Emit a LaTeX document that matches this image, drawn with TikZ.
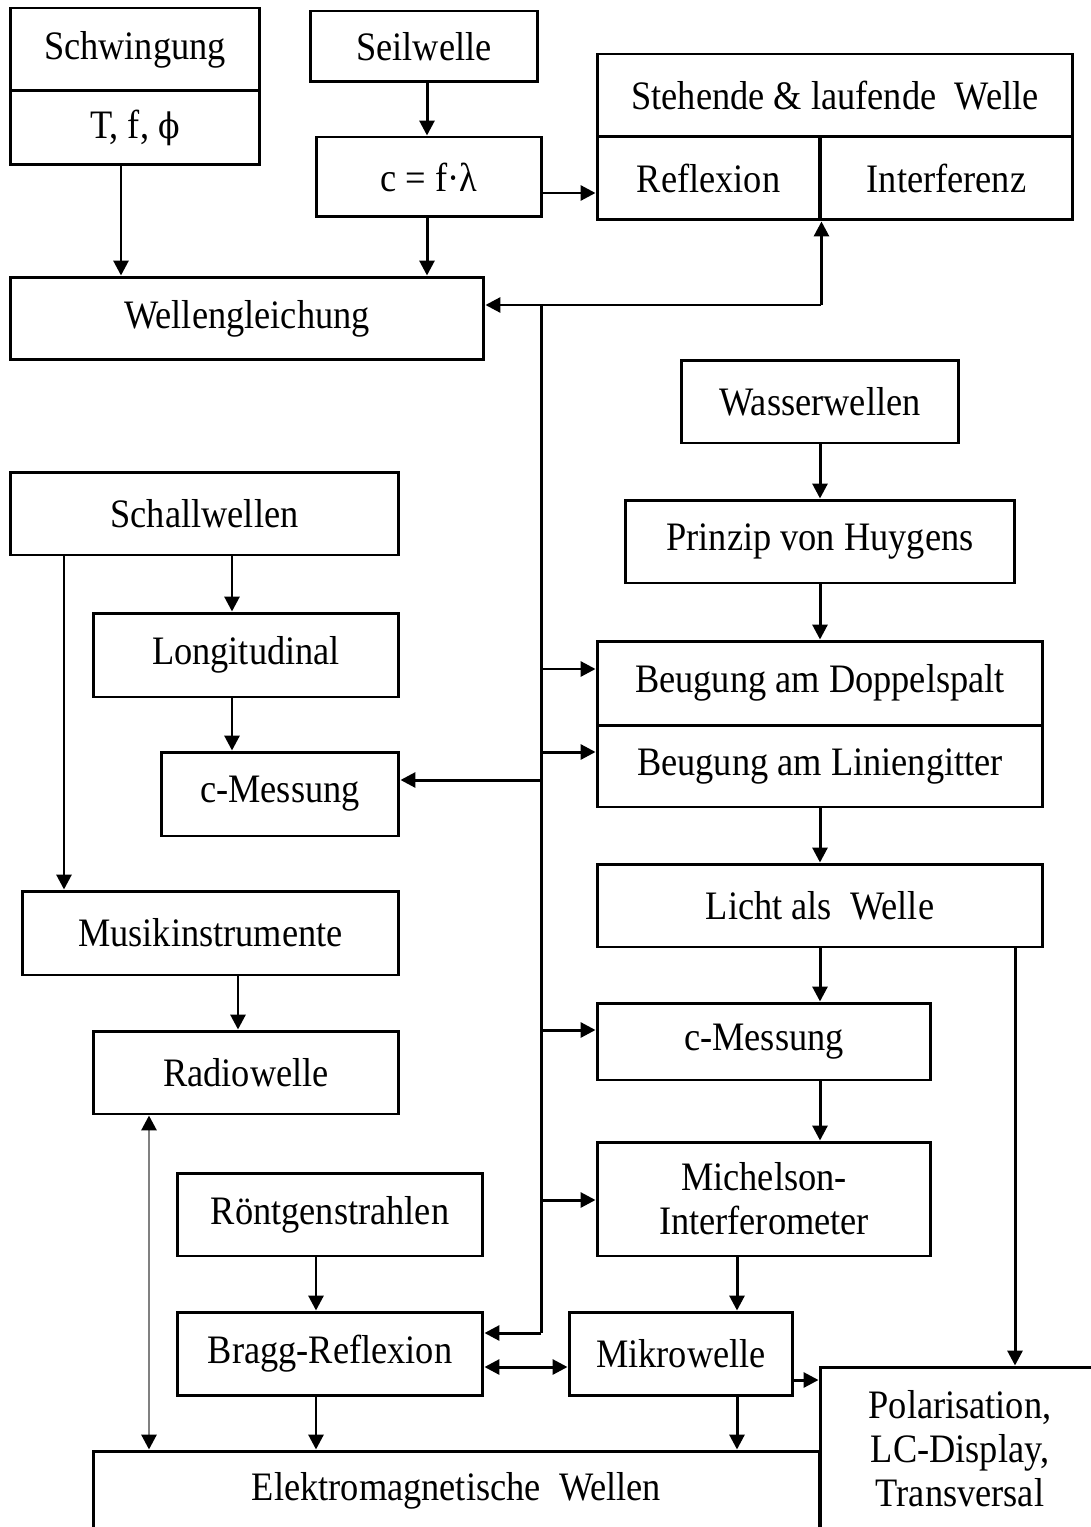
\documentclass[tikz,border=0pt]{standalone}
\usepackage{fontspec}
\setmainfont{Liberation Serif}[FakeStretch=0.9]
\newfontfamily\phifont{DejaVu Serif}[FakeStretch=0.9]
\usetikzlibrary{arrows.meta}
\begin{document}
\begin{tikzpicture}[x=0.02cm,y=-0.02cm,
  box/.style={draw, line width=1.7pt, inner sep=2pt, align=center,
    font=\fontsize{23}{25}\selectfont},
  arr/.style={line width=1.7pt, -{Triangle[length=8.5pt,width=8.5pt]}},
  link/.style={line width=1.7pt},
  darr/.style={line width=1.7pt, {Triangle[length=8.5pt,width=8.5pt]}-{Triangle[length=8.5pt,width=8.5pt]}}]
\useasboundingbox (0,0) rectangle (1091,1527);
\clip (0,0) rectangle (1091,1527);
% boxes
\node[box, minimum width=5.00cm, minimum height=1.66cm] (sch1) at (135,49.5) {Schwingung};
\node[box, minimum width=5.00cm, minimum height=1.48cm] (sch2) at (135,128) {T, f, {\phifont\fontsize{20}{25}\selectfont ϕ}};
\node[box, minimum width=4.56cm, minimum height=1.42cm] (seil) at (424,46.5) {Seilwelle};
\node[box, minimum width=4.52cm, minimum height=1.60cm] (cfl) at (429,177) {c = f·λ};
\node[box, minimum width=9.52cm, minimum height=1.66cm] (steh) at (835,95.5) {Stehende \& laufende \ Welle};
\node[box, minimum width=4.46cm, minimum height=1.66cm] (refl) at (708.5,178.5) {Reflexion};
\node[box, minimum width=5.06cm, minimum height=1.66cm] (intf) at (946.5,178.5) {Interferenz};
\node[box, minimum width=9.48cm, minimum height=1.66cm] (wg) at (247,318.5) {Wellengleichung};
\node[box, minimum width=5.56cm, minimum height=1.66cm] (wasser) at (820,401.5) {Wasserwellen};
\node[box, minimum width=7.78cm, minimum height=1.66cm] (schall) at (204.5,513.5) {Schallwellen};
\node[box, minimum width=7.80cm, minimum height=1.66cm] (huy) at (820,541.5) {Prinzip von Huygens};
\node[box, minimum width=6.12cm, minimum height=1.68cm] (long) at (246,655) {Longitudinal};
\node[box, minimum width=8.92cm, minimum height=1.68cm] (beug1) at (820,683) {Beugung am Doppelspalt};
\node[box, minimum width=8.92cm, minimum height=1.64cm] (beug2) at (820,766) {Beugung am Liniengitter};
\node[box, minimum width=4.76cm, minimum height=1.68cm] (cm1) at (280,794) {c-Messung};
\node[box, minimum width=8.92cm, minimum height=1.66cm] (licht) at (820,905.5) {Licht als \ Welle};
\node[box, minimum width=7.54cm, minimum height=1.68cm] (musik) at (210.5,933) {Musikinstrumente};
\node[box, minimum width=6.12cm, minimum height=1.66cm] (radio) at (246,1072.5) {Radiowelle};
\node[box, minimum width=6.68cm, minimum height=1.54cm] (cm2) at (764,1041.5) {c-Messung};
\node[box, minimum width=6.68cm, minimum height=2.28cm] (mich) at (764,1199) {Michelson-\\Interferometer};
\node[box, minimum width=6.12cm, minimum height=1.66cm] (roent) at (330,1214.5) {Röntgenstrahlen};
\node[box, minimum width=6.12cm, minimum height=1.66cm] (bragg) at (330,1353.5) {Bragg-Reflexion};
\node[box, minimum width=4.48cm, minimum height=1.66cm] (mikro) at (681,1353.5) {Mikrowelle};
\node[box, minimum width=14.54cm, minimum height=1.60cm] (em) at (456.5,1491) {Elektromagnetische \ Wellen};
\node[box, minimum width=5.60cm, minimum height=3.28cm] (pol) at (960,1449) {Polarisation,\\LC-Display,\\Transversal};
% bus coordinates
\coordinate (j1) at (refl.south east |- 0,305);
\coordinate (btop) at (541,305);
\coordinate (bbot) at (541,1333);
% top connectors
\draw[arr] (sch2.south -| 121,0) -- (wg.north -| 121,0);
\draw[arr] (seil.south -| 427,0) -- (cfl.north -| 427,0);
\draw[arr] (cfl.south -| 427,0) -- (wg.north -| 427,0);
\draw[arr] (cfl.east |- 0,193) -- (refl.west |- 0,193);
\draw[arr] (j1) -- (refl.south east);
\draw[arr] (j1) -- (wg.east |- j1);
% bus
\draw[link] (btop) -- (bbot);
\draw[arr] (bbot) -- (bragg.east |- bbot);
\draw[arr] (btop |- 0,669) -- (beug1.west |- 0,669);
\draw[arr] (btop |- 0,752) -- (beug2.west |- 0,752);
\draw[arr] (btop |- 0,780) -- (cm1.east |- 0,780);
\draw[arr] (btop |- 0,1030) -- (cm2.west |- 0,1030);
\draw[arr] (btop |- 0,1200) -- (mich.west |- 0,1200);
% right chain
\draw[arr] (wasser.south) -- (huy.north);
\draw[arr] (huy.south) -- (beug1.north);
\draw[arr] (beug2.south) -- (licht.north);
\draw[arr] (licht.south) -- (cm2.north -| licht.south);
\draw[arr] (cm2.south -| 820,0) -- (mich.north -| 820,0);
\draw[arr] (mich.south -| 737,0) -- (mikro.north -| 737,0);
\draw[arr] (mikro.south -| 737,0) -- (em.north -| 737,0);
\draw[arr] (licht.south -| 1015,0) -- (pol.north -| 1015,0);
\draw[arr] (mikro.east |- 0,1380) -- (pol.west |- 0,1380);
\draw[darr] (bragg.east |- 0,1367) -- (mikro.west |- 0,1367);
% left chain
\draw[arr] (roent.south -| 316,0) -- (bragg.north -| 316,0);
\draw[arr] (bragg.south -| 316,0) -- (em.north -| 316,0);
\draw[arr] (schall.south -| 232,0) -- (long.north -| 232,0);
\draw[arr] (schall.south -| 64,0) -- (musik.north -| 64,0);
\draw[arr] (long.south -| 232,0) -- (cm1.north -| 232,0);
\draw[arr] (musik.south -| 238,0) -- (radio.north -| 238,0);
\draw[line width=1.7pt, draw=black!50,
  {Triangle[length=8.5pt,width=8.5pt,color=black]}-{Triangle[length=8.5pt,width=8.5pt,color=black]}]
  (radio.south -| 149,0) -- (em.north -| 149,0);
\end{tikzpicture}
\end{document}
